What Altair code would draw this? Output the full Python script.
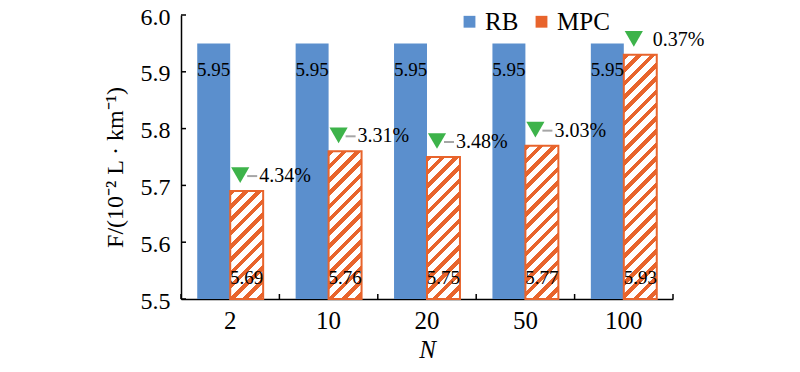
import math
import altair as alt
import pandas as pd

# ---- data ----
N_VALUES = ["2", "10", "20", "50", "100"]
RB_F = [5.95, 5.95, 5.95, 5.95, 5.95]
MPC_F = [5.69, 5.76, 5.75, 5.77, 5.93]
REDUCTION = ["4.34%", "3.31%", "3.48%", "3.03%", "0.37%"]
HAS_LEADER = [True, True, True, True, False]
SERIES = ["RB", "MPC"]
Y_TICKS = [5.5, 5.6, 5.7, 5.8, 5.9, 6.0]

# ---- style ----
BLUE = "#5B8FCD"
ORANGE = "#E8642C"
GREEN = "#3DB34A"
GREY = "#A6A6A6"
FONT = "Liberation Serif"
W, H = 492, 284
YMIN, YMAX = 5.5, 6.0
P_IN, P_OUT = 0.33, 0.165
STEP = W / (len(N_VALUES) - P_IN + 2 * P_OUT)
BAR_W = STEP * (1 - P_IN) / 2
TICK = 5

bars = pd.DataFrame({
    "N": N_VALUES * 2,
    "series": ["RB"] * 5 + ["MPC"] * 5,
    "F": RB_F + MPC_F,
})
pts = pd.DataFrame({"N": N_VALUES, "F": MPC_F, "red": REDUCTION, "leader": HAS_LEADER})
yticks = pd.DataFrame({"t": Y_TICKS})

xscale = alt.Scale(domain=N_VALUES, paddingInner=P_IN, paddingOuter=P_OUT)
yscale = alt.Scale(domain=[YMIN, YMAX], zero=False, nice=False)
offscale = alt.Scale(domain=SERIES)


def hatch(v, period=9.4, frac=0.42):
    """diagonal '/' stripes as a linear gradient in bounding-box units"""
    h = (v - YMIN) / (YMAX - YMIN) * H
    w = BAR_W
    r = w / h
    b = (r + 1) / (r * r + 1)
    a = r * b
    D = (w + h) / math.sqrt(2)
    stops = []
    k = 0
    while k * period / D < 1:
        t0 = k * period / D
        t1 = min((k + frac) * period / D, 1)
        t2 = min((k + 1) * period / D, 1)
        stops += [(t0, ORANGE), (t1, ORANGE), (t1, "white"), (t2, "white")]
        k += 1
    return alt.LinearGradient(
        gradient="linear", x1=0, y1=0, x2=a, y2=b,
        stops=[alt.GradientStop(offset=o, color=c) for o, c in stops],
    )


base = alt.Chart(bars)

rb_layer = base.transform_filter(alt.datum.series == "RB").mark_bar(color=BLUE).encode(
    x=alt.X("N:N", scale=xscale, title="N",
            axis=alt.Axis(orient="bottom", labelAngle=0, ticks=False, tickSize=0,
                          domainColor="black", domainWidth=1.5,
                          labelFont=FONT, labelFontSize=25, labelColor="black", labelPadding=9,
                          titleFont=FONT, titleFontSize=25, titleFontStyle="italic",
                          titleFontWeight="normal", titleColor="black", titlePadding=4)),
    xOffset=alt.XOffset("series:N", scale=offscale),
    y=alt.Y("F:Q", scale=yscale, title="F/(10⁻² L · km⁻¹)",
            axis=alt.Axis(orient="left", values=Y_TICKS, format=".1f", ticks=False, tickSize=0,
                          grid=False, domainColor="black", domainWidth=1.5,
                          labelFont=FONT, labelFontSize=24, labelColor="black", labelPadding=11,
                          labelOffset=2,
                          titleFont=FONT, titleFontSize=24, titleFontWeight="normal",
                          titleColor="black", titlePadding=13, titleY=152)),
    y2=alt.datum(YMIN),
    color=alt.Color("series:N", scale=alt.Scale(domain=SERIES, range=[BLUE, ORANGE]),
                    legend=alt.Legend(orient="none", legendX=276, legendY=-6, direction="horizontal",
                                      title=None, labelFont=FONT, labelFontSize=25, labelColor="black",
                                      symbolType="square", symbolSize=140, symbolStrokeWidth=0,
                                      labelOffset=3, columnPadding=10)),
)

mpc_layers = []
for n, v in zip(N_VALUES, MPC_F):
    mpc_layers.append(
        base.transform_filter((alt.datum.series == "MPC") & (alt.datum.N == n))
        .mark_bar(fill=hatch(v), stroke=ORANGE, strokeWidth=2)
        .encode(
            x=alt.X("N:N", scale=xscale, axis=None),
            xOffset=alt.XOffset("series:N", scale=offscale),
            y=alt.Y("F:Q", scale=yscale, axis=None),
            y2=alt.datum(YMIN),
        )
    )

rb_text = base.transform_filter(alt.datum.series == "RB").mark_text(
    font=FONT, fontSize=19, color="black", baseline="middle", dy=27
).encode(
    x=alt.X("N:N", scale=xscale, axis=None),
    xOffset=alt.XOffset("series:N", scale=offscale),
    y=alt.Y("F:Q", scale=yscale, axis=None),
    text=alt.Text("F:Q", format=".2f"),
)

mpc_text = base.transform_filter(alt.datum.series == "MPC").mark_text(
    font=FONT, fontSize=19, color="black", baseline="middle", dy=-21
).encode(
    x=alt.X("N:N", scale=xscale, axis=None),
    xOffset=alt.XOffset("series:N", scale=offscale),
    y=alt.YDatum(YMIN, scale=yscale, axis=None),
    text=alt.Text("F:Q", format=".2f"),
)

# inward tick marks (axis decoration)
ytick_layer = alt.Chart(yticks).mark_rule(color="black", strokeWidth=1.5).encode(
    y=alt.Y("t:Q", scale=yscale, axis=None),
    x=alt.value(0),
    x2=alt.value(TICK),
)
xtick_layer = alt.Chart(pts).mark_rule(
    color="black", strokeWidth=1.5, xOffset=-STEP * P_IN / 2
).encode(
    x=alt.X("N:N", scale=xscale, axis=None, bandPosition=0),
    y=alt.value(H),
    y2=alt.value(H - TICK),
)
xtick_end = alt.Chart(pts.head(1)).mark_rule(color="black", strokeWidth=1.5).encode(
    x=alt.value(W),
    y=alt.value(H),
    y2=alt.value(H - TICK),
)

pbase = alt.Chart(pts)

tri = pbase.mark_point(shape="triangle-down", filled=True, color=GREEN, opacity=1,
                       size=330, xOffset=10, yOffset=-16).encode(
    x=alt.X("N:N", scale=xscale, axis=None),
    y=alt.Y("F:Q", scale=yscale, axis=None),
)

leader = pbase.transform_filter(alt.datum.leader).mark_point(
    shape="M -1 0 L 1 0", filled=False, stroke=GREY, strokeWidth=2, opacity=1,
    size=100, xOffset=22, yOffset=-15).encode(
    x=alt.X("N:N", scale=xscale, axis=None),
    y=alt.Y("F:Q", scale=yscale, axis=None),
)

pct = pbase.mark_text(font=FONT, fontSize=20, color="black", align="left",
                      baseline="middle", dx=29, dy=-15).encode(
    x=alt.X("N:N", scale=xscale, axis=None),
    y=alt.Y("F:Q", scale=yscale, axis=None),
    text="red:N",
)

chart = alt.layer(
    rb_layer, *mpc_layers, rb_text, mpc_text, ytick_layer, xtick_layer, xtick_end,
    tri, leader, pct
).resolve_axis(
    x="independent", y="independent"
).properties(
    width=W, height=H,
    autosize=alt.AutoSizeParams(type="none"),
    padding={"left": 173, "top": 7, "right": 119, "bottom": 65},
).configure_view(stroke=None)

chart.save("out.html", embed_options={"renderer": "svg", "actions": False})
